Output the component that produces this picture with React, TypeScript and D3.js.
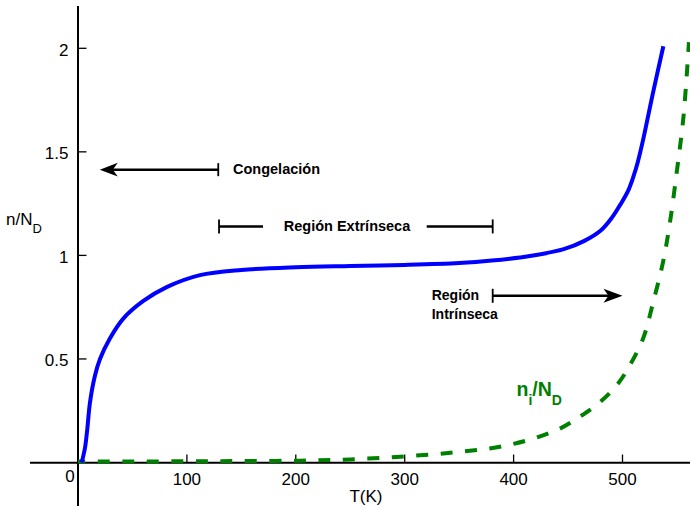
import React from "react";
import * as d3 from "d3";

// Blue curve: n/N_D vs T
const blueT = [3.4, 6.4, 8.5, 11, 15.6, 20.2, 29.4, 41.6, 60, 81.4, 112, 150, 200, 250, 300, 350, 380, 415, 446, 465, 480, 490, 498, 505, 510, 514, 519, 528, 537.5];
const blueY = [0, 0.07, 0.16, 0.29, 0.42, 0.5, 0.6, 0.695, 0.78, 0.847, 0.905, 0.93, 0.943, 0.949, 0.954, 0.963, 0.975, 0.997, 1.03, 1.07, 1.12, 1.18, 1.245, 1.31, 1.38, 1.45, 1.56, 1.785, 2.01];

// Green dashed curve: n_i/N_D vs T
const greenT = [0, 50, 111, 150, 204, 250, 296, 340, 378, 400, 421, 443, 461, 479, 495, 507, 519, 528, 537.5, 543.6, 550, 556, 561];
const greenY = [0.005, 0.005, 0.006, 0.007, 0.009, 0.015, 0.028, 0.046, 0.068, 0.09, 0.12, 0.165, 0.222, 0.29, 0.375, 0.472, 0.6, 0.77, 0.975, 1.16, 1.41, 1.67, 2.03];

const xTicks = [100, 200, 300, 400, 500];
const yTicks = [0.5, 1, 1.5, 2];
const yTickLabels = ["0.5", "1", "1.5", "2"];

// Annotation anchors (data coordinates)
const congelacion = { from: 128.8, to: 20, y: 1.414, label: "Congelación" };
const extrinseca = { from: 129.5, to: 380.8, y: 1.14, label: "Región Extrínseca" };
const intrinseca = { from: 380.8, to: 500, y: 0.805, lines: ["Región", "Intrínseca"] };

const FONT = "'Liberation Sans', Arial, Helvetica, sans-serif";

export default function App() {
  const x = d3.scaleLinear().domain([0, 500]).range([78, 622.5]);
  const y = d3.scaleLinear().domain([0, 2]).range([462.5, 48.3]);

  const line = d3
    .line<[number, number]>()
    .x((d) => x(d[0]))
    .y((d) => y(d[1]))
    .curve(d3.curveCatmullRom.alpha(0.5));

  const blueData = blueT.map((t, i) => [t, blueY[i]] as [number, number]);
  const greenData = greenT.map((t, i) => [t, greenY[i]] as [number, number]);

  const arrowHead = (tipX: number, tipY: number, dir: number, len: number, half: number) => {
    const b = tipX - dir * len;
    const n = tipX - dir * (len - 5);
    return `M${tipX},${tipY} L${b},${tipY - half} L${n},${tipY} L${b},${tipY + half} Z`;
  };

  const cy = y(congelacion.y);
  const ey = y(extrinseca.y);
  const iy = y(intrinseca.y);

  return (
    <div style={{ position: "absolute", left: 0, top: 0 }}>
      <svg width={690} height={510} style={{ display: "block", background: "#fff" }} fontFamily={FONT}>
        {/* axes */}
        <line x1={30} x2={690} y1={462.7} y2={462.7} stroke="#000" strokeWidth={2} />
        <line x1={78} x2={78} y1={6} y2={506} stroke="#000" strokeWidth={2} />
        {xTicks.map((t) => (
          <g key={"xt" + t}>
            <line x1={x(t)} x2={x(t)} y1={462.7} y2={454.5} stroke="#000" strokeWidth={1.3} />
            <text x={x(t)} y={485} textAnchor="middle" fontSize={17} fill="#000">
              {t}
            </text>
          </g>
        ))}
        <text x={70} y={482} textAnchor="middle" fontSize={17} fill="#000">0</text>
        {yTicks.map((t, i) => (
          <g key={"yt" + t}>
            <line x1={78} x2={86.5} y1={y(t)} y2={y(t)} stroke="#000" strokeWidth={1.3} />
            <text x={68.5} y={y(t) + 7.5} textAnchor="end" fontSize={17} fill="#000">
              {yTickLabels[i]}
            </text>
          </g>
        ))}
        <text x={366} y={502} textAnchor="middle" fontSize={17} fill="#000">T(K)</text>
        <text x={6} y={225} fontSize={17} fill="#000">
          n/N<tspan fontSize={13} dy={8}>D</tspan>
        </text>

        {/* curves */}
        <path d={line(greenData) || ""} fill="none" stroke="#008000" strokeWidth={4} strokeDasharray="12,12.5" strokeDashoffset={4.7} />
        <path d={line(blueData) || ""} fill="none" stroke="#0000ff" strokeWidth={4} />

        {/* Congelación */}
        <line x1={x(congelacion.from)} x2={x(congelacion.to) + 12} y1={cy} y2={cy} stroke="#000" strokeWidth={2.5} />
        <line x1={x(congelacion.from)} x2={x(congelacion.from)} y1={cy - 6.5} y2={cy + 6.5} stroke="#000" strokeWidth={1.8} />
        <path d={arrowHead(x(congelacion.to), cy, -1, 18, 6.8)} fill="#000" />
        <text x={233} y={cy + 4.6} fontSize={14.5} fontWeight="bold" fill="#000">{congelacion.label}</text>

        {/* Región Extrínseca */}
        <line x1={x(extrinseca.from)} x2={263} y1={ey} y2={ey} stroke="#000" strokeWidth={2.5} />
        <line x1={426.7} x2={x(extrinseca.to)} y1={ey} y2={ey} stroke="#000" strokeWidth={2.5} />
        <line x1={x(extrinseca.from)} x2={x(extrinseca.from)} y1={ey - 7} y2={ey + 7} stroke="#000" strokeWidth={1.8} />
        <line x1={x(extrinseca.to)} x2={x(extrinseca.to)} y1={ey - 7} y2={ey + 7} stroke="#000" strokeWidth={1.8} />
        <text x={347} y={ey + 4.6} textAnchor="middle" fontSize={14.5} fontWeight="bold" fill="#000">{extrinseca.label}</text>

        {/* Región Intrínseca */}
        <line x1={x(intrinseca.from)} x2={x(intrinseca.to) - 12} y1={iy} y2={iy} stroke="#000" strokeWidth={2.5} />
        <line x1={x(intrinseca.from)} x2={x(intrinseca.from)} y1={iy - 7} y2={iy + 7} stroke="#000" strokeWidth={1.8} />
        <path d={arrowHead(x(intrinseca.to), iy, 1, 19, 7)} fill="#000" />
        <text x={431.7} y={300} fontSize={14} fontWeight="bold" fill="#000">{intrinseca.lines[0]}</text>
        <text x={431.7} y={319} fontSize={14} fontWeight="bold" fill="#000">{intrinseca.lines[1]}</text>

        {/* n_i/N_D label */}
        <text x={516.5} y={396} fontSize={19.5} fontWeight="bold" fill="#008000">
          n<tspan fontSize={14} dy={9}>i</tspan>
          <tspan fontSize={19.5} dy={-9}>/N</tspan>
          <tspan fontSize={14} dy={9}>D</tspan>
        </text>
      </svg>
    </div>
  );
}
